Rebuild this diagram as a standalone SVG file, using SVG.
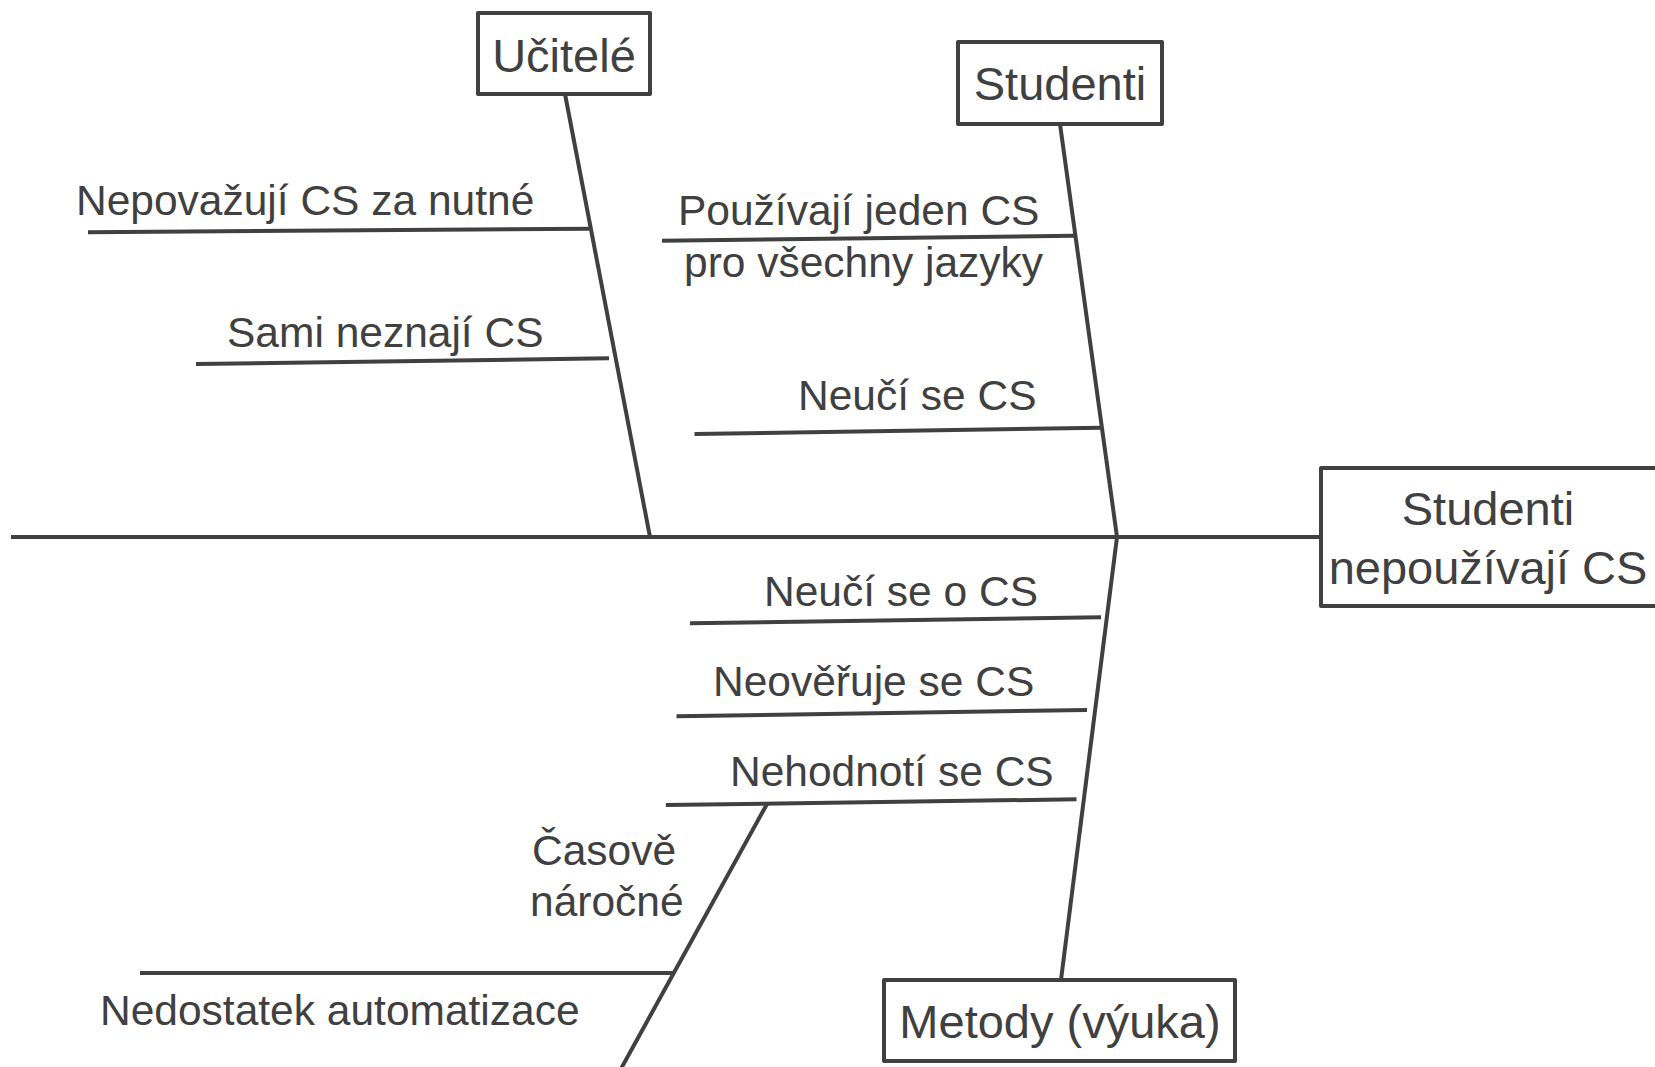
<svg xmlns="http://www.w3.org/2000/svg" width="1655" height="1067" viewBox="0 0 1655 1067">
<style>
.ln{stroke:#404040;stroke-width:4;fill:none;stroke-linecap:butt}
.box{stroke:#404040;stroke-width:4;fill:#ffffff;stroke-linejoin:round}
.lbl{font-family:"Liberation Sans",Arial,sans-serif;font-size:42.5px;fill:#404040}
.hd{font-family:"Liberation Sans",Arial,sans-serif;font-size:47px;fill:#404040;text-anchor:middle}
</style>
<rect width="1655" height="1067" fill="#ffffff"/>
<g id="connectors">
<line class="ln" x1="11" y1="537" x2="1321" y2="537"/>
<line class="ln" x1="565" y1="94" x2="650" y2="537"/>
<line class="ln" x1="1060" y1="124" x2="1117" y2="537"/>
<line class="ln" x1="1117" y1="537" x2="1061" y2="980"/>
<line class="ln" x1="88" y1="232.3" x2="590" y2="228.7"/>
<line class="ln" x1="196" y1="364" x2="609" y2="358.3"/>
<line class="ln" x1="662" y1="240.7" x2="1074" y2="235.7"/>
<line class="ln" x1="694.5" y1="434" x2="1101" y2="427.7"/>
<line class="ln" x1="690" y1="623.3" x2="1101" y2="617.3"/>
<line class="ln" x1="676.5" y1="716.3" x2="1087" y2="710"/>
<line class="ln" x1="665.8" y1="805" x2="1076.5" y2="799.3"/>
<line class="ln" x1="767" y1="804" x2="617" y2="1076"/>
<line class="ln" x1="140" y1="973" x2="673" y2="973"/>
</g>
<g id="node-ucitele">
<rect class="box" x="478" y="13" width="172" height="81"/>
<text class="hd" x="564" y="72">Učitelé</text>
</g>
<g id="node-studenti">
<rect class="box" x="958" y="42" width="204" height="82"/>
<text class="hd" x="1060" y="100">Studenti</text>
</g>
<g id="node-metody">
<rect class="box" x="884" y="980" width="351" height="81"/>
<text class="hd" x="1060" y="1038">Metody (výuka)</text>
</g>
<g id="node-effect">
<rect class="box" x="1321" y="468" width="340" height="138"/>
<text class="hd" x="1488" y="525">Studenti</text>
<text class="hd" x="1488" y="584">nepoužívají CS</text>
</g>
<g id="label-nepovazuji"><text class="lbl" x="76" y="215">Nepovažují CS za nutné</text></g>
<g id="label-sami"><text class="lbl" x="227" y="347">Sami neznají CS</text></g>
<g id="label-pouzivaji"><text class="lbl" x="678" y="225">Používají jeden CS</text><text class="lbl" x="684" y="277">pro všechny jazyky</text></g>
<g id="label-neuci"><text class="lbl" x="798" y="410">Neučí se CS</text></g>
<g id="label-neucio"><text class="lbl" x="764" y="606">Neučí se o CS</text></g>
<g id="label-neoveruje"><text class="lbl" x="713" y="696">Neověřuje se CS</text></g>
<g id="label-nehodnoti"><text class="lbl" x="730" y="786">Nehodnotí se CS</text></g>
<g id="label-casove"><text class="lbl" x="532" y="865">Časově</text><text class="lbl" x="530" y="916">náročné</text></g>
<g id="label-nedostatek"><text class="lbl" x="100" y="1025">Nedostatek automatizace</text></g>
</svg>
